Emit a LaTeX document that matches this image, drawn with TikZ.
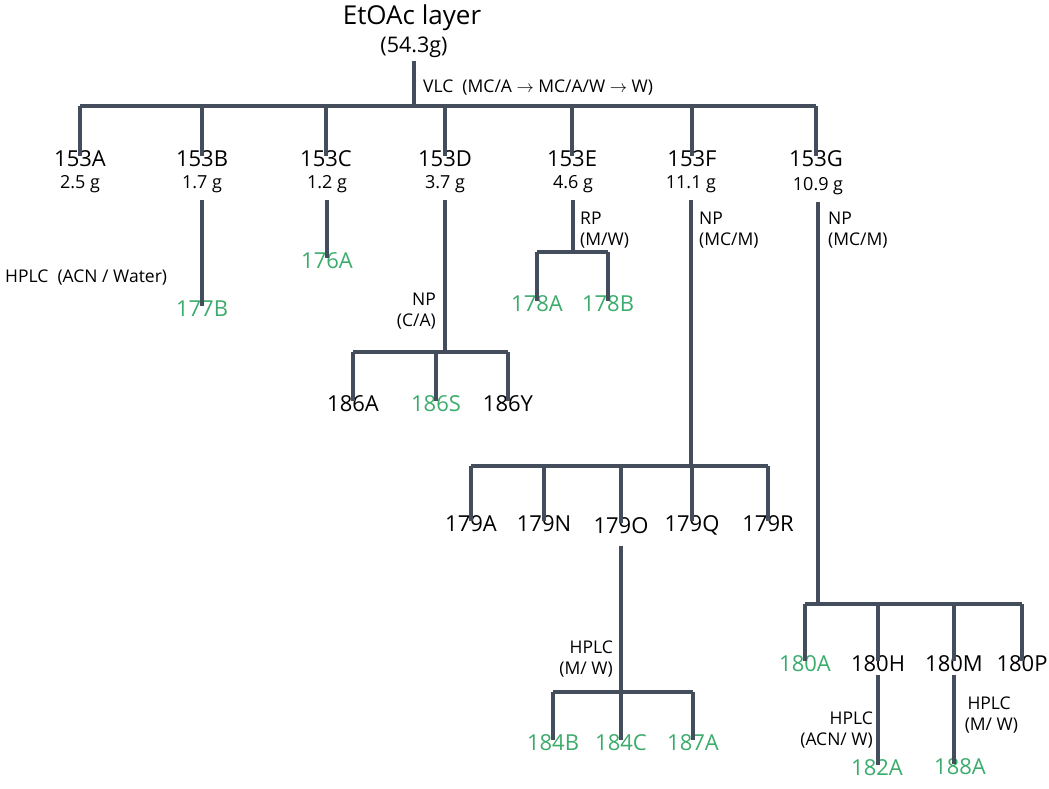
\documentclass[tikz,border=0pt]{standalone}
\usepackage{fontspec}
\setmainfont{Open Sans}
\usepackage{xcolor}
\usepackage{tikz}
\usetikzlibrary{positioning}

\definecolor{tiecol}{RGB}{67,77,92}
\definecolor{pure}{RGB}{60,172,108}

\begin{document}
\begin{tikzpicture}[
x=1pt, y=-1pt,
frac/.style={inner sep=3pt, text height=0.72em, text depth=0pt,
font=\fontsize{22}{25}\selectfont},
pure/.style={frac, text=pure},
wt/.style={inner sep=2pt, outer sep=9pt, text height=0.72em, text depth=0pt,
font=\fontsize{18}{20}\selectfont},
cond/.style={inner sep=0pt, font=\fontsize{17.5}{21}\selectfont},
tie/.style={draw=tiecol, line width=4pt}
]
\useasboundingbox (0,0) rectangle (1049,788);

% crude extract
\node[inner sep=0pt, font=\fontsize{26}{30}\selectfont] (layer) at (412,18) {EtOAc layer};
\node[inner sep=3pt, font=\fontsize{21.5}{25}\selectfont] (mass) at (414,47) {(54.3g)};
\node[cond, anchor=west] (vlc) at (423,88) {VLC\ \ (MC/A $\rightarrow$ MC/A/W $\rightarrow$ W)};
\coordinate (bar0) at (413,106);

% VLC fractions
\node[frac] (n153A) at (80,163) {153A};
\node[frac] (n153B) at (202,163) {153B};
\node[frac] (n153C) at (326,163) {153C};
\node[frac] (n153D) at (445,163) {153D};
\node[frac] (n153E) at (572,163) {153E};
\node[frac] (n153F) at (692,163) {153F};
\node[frac] (n153G) at (816,163) {153G};
\node[wt] (w153A) at (80,185) {2.5 g};
\node[wt] (w153B) at (202,185) {1.7 g};
\node[wt] (w153C) at (327,185) {1.2 g};
\node[wt] (w153D) at (445,185) {3.7 g};
\node[wt] (w153E) at (573,185) {4.6 g};
\node[wt] (w153F) at (691,185) {11.1 g};
\node[wt] (w153G) at (818,187) {10.9 g};

% sub-fractions
\node[pure] (n177B) at (202,313) {177B};
\node[cond, anchor=west] (hplcB) at (5,278) {HPLC\ \ (ACN / Water)};
\node[pure] (n176A) at (327,265) {176A};

\node[cond, anchor=north east, align=right] (npD) at (436,293) {NP\\(C/A)};
\coordinate (bar186) at (445,352);
\node[frac] (n186A) at (353,408) {186A};
\node[pure] (n186S) at (436,408) {186S};
\node[frac] (n186Y) at (508,408) {186Y};

\node[cond, anchor=north west, align=left] (rpE) at (580,212) {RP\\(M/W)};
\coordinate (bar178) at (573,252);
\node[pure] (n178A) at (537,308) {178A};
\node[pure] (n178B) at (608,308) {178B};

\node[cond, anchor=north west, align=left] (npF) at (699,212) {NP\\(MC/M)};
\coordinate (bar179) at (691,466);
\node[frac] (n179A) at (471,528) {179A};
\node[frac] (n179N) at (544,528) {179N};
\node[frac] (n179O) at (621,530) {179O};
\node[frac] (n179Q) at (692,528) {179Q};
\node[frac] (n179R) at (768,528) {179R};

\node[cond, anchor=north east, align=right] (hplcO) at (613,641) {HPLC\\(M/ W)};
\coordinate (bar184) at (621,692);
\node[pure] (n184B) at (553,747) {184B};
\node[pure] (n184C) at (621,747) {184C};
\node[pure] (n187A) at (693,747) {187A};

\node[cond, anchor=north west, align=left] (npG) at (828,212) {NP\\(MC/M)};
\coordinate (bar180) at (818,604);
\node[pure] (n180A) at (805,668) {180A};
\node[frac] (n180H) at (878,668) {180H};
\node[frac] (n180M) at (954,668) {180M};
\node[frac] (n180P) at (1022,668) {180P};

\node[cond, anchor=north east, align=right] (hplcH) at (873,712) {HPLC\\(ACN/ W)};
\node[pure] (n182A) at (877,772) {182A};
\node[cond, anchor=north west, align=center] (hplcM) at (960,697) {HPLC\\\ (M/ W)};
\node[pure] (n188A) at (960,771) {188A};

% connectors
\draw[tie] (mass.south) -- (mass.south |- bar0);
\draw[tie, line width=4.5pt] (n153A.north |- bar0) -- (n153G.north |- bar0);
\foreach \f in {A,B,C,D,E,F,G}
  \draw[tie] (n153\f.north |- bar0) -- (n153\f.north);

\draw[tie] (w153B.south) -- (w153B.south |- n177B.north);
\draw[tie] (w153C.south) -- (w153C.south |- n176A.north);

\draw[tie] (w153D.south) -- (bar186);
\draw[tie] (n186A.north |- bar186) -- (n186Y.north |- bar186);
\foreach \f in {186A,186S,186Y}
  \draw[tie] (n\f.north |- bar186) -- (n\f.north);

\draw[tie] (w153E.south) -- (bar178);
\draw[tie] (n178A.north |- bar178) -- (n178B.north |- bar178);
\foreach \f in {178A,178B}
  \draw[tie] (n\f.north |- bar178) -- (n\f.north);

\draw[tie] (w153F.south) -- (bar179);
\draw[tie] (n179A.north |- bar179) -- (n179R.north |- bar179);
\foreach \f in {179A,179N,179O,179Q,179R}
  \draw[tie] (n\f.north |- bar179) -- (n\f.north);

\draw[tie, shorten <=9pt] (n179O.south) -- (bar184);
\draw[tie] (n184B.north |- bar184) -- (n187A.north |- bar184);
\foreach \f in {184B,184C,187A}
  \draw[tie] (n\f.north |- bar184) -- (n\f.north);

\draw[tie] (w153G.south) -- (bar180);
\draw[tie] (n180A.north |- bar180) -- (n180P.north |- bar180);
\foreach \f in {180A,180H,180M,180P}
  \draw[tie] (n\f.north |- bar180) -- (n\f.north);

\draw[tie] (n180H.south) -- (n180H.south |- n182A.north);
\draw[tie] (n180M.south) -- (n180M.south |- n188A.north);
\end{tikzpicture}
\end{document}
